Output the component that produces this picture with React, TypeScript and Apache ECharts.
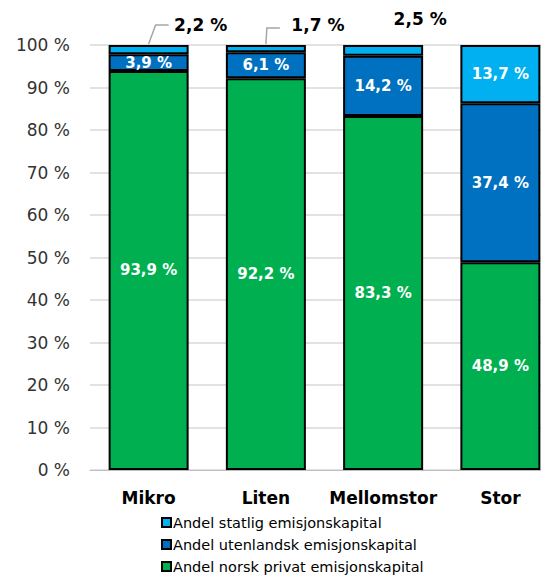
import React, { useEffect, useRef } from "react";
import * as echarts from "echarts";

const categories = ["Mikro", "Liten", "Mellomstor", "Stor"];
const statlig = [2.2, 1.7, 2.5, 13.7];
const utenlandsk = [3.9, 6.1, 14.2, 37.4];
const norsk = [93.9, 92.2, 83.3, 48.9];
const yTicks = [0, 10, 20, 30, 40, 50, 60, 70, 80, 90, 100];
const seriesNames = [
  "Andel statlig emisjonskapital",
  "Andel utenlandsk emisjonskapital",
  "Andel norsk privat emisjonskapital",
];

const FONT = "DejaVu Sans";
const fmt = (v: number) => v.toFixed(1).replace(".", ",") + " %";

export default function App() {
  const ref = useRef<HTMLDivElement>(null);
  useEffect(() => {
    const chart = echarts.init(ref.current!, null, { renderer: "svg" });
    const inside = {
      show: true,
      position: "inside",
      color: "#fff",
      fontWeight: "bold",
      fontSize: 15,
      fontFamily: FONT,
      formatter: (p: any) => fmt(p.value),
    };
    const border = { borderColor: "#000", borderWidth: 2 };
    const outsideOffsets = [
      [52, -7],
      [52, -7],
      [37, -13],
    ];
    chart.setOption({
      animation: false,
      textStyle: { fontFamily: FONT },
      grid: {
        left: 82,
        right: -2,
        top: 37,
        bottom: 118,
        containLabel: false,
        outerBoundsMode: "none",
      },
      legend: {
        orient: "vertical",
        left: 148,
        top: 505,
        width: 390,
        height: 70,
        itemWidth: 9,
        itemHeight: 9,
        itemGap: 7,
        padding: [2, 5],
        icon: "rect",
        data: seriesNames,
        textStyle: { fontSize: 14.5, color: "#000", fontFamily: FONT, padding: [0, 0, 0, -3] },
      },
      xAxis: {
        type: "category",
        data: categories,
        axisTick: { show: false },
        axisLine: { lineStyle: { color: "#bfbfbf", width: 1 } },
        axisLabel: {
          interval: 0,
          fontSize: 17,
          fontWeight: "bold",
          color: "#000",
          margin: 19,
          fontFamily: FONT,
        },
      },
      yAxis: {
        type: "value",
        min: yTicks[0],
        max: yTicks[yTicks.length - 1],
        interval: 10,
        axisLabel: { fontSize: 17, color: "#333", margin: 20, formatter: "{value} %", fontFamily: FONT },
        splitLine: { lineStyle: { color: "#d9d9d9", width: 1.5 } },
        axisLine: { show: false },
      },
      series: [
        {
          name: seriesNames[2],
          type: "bar",
          stack: "s",
          barWidth: 80,
          data: norsk,
          itemStyle: { color: "#00B050", ...border },
          label: inside,
        },
        {
          name: seriesNames[1],
          type: "bar",
          stack: "s",
          barWidth: 80,
          data: utenlandsk,
          itemStyle: { color: "#0070C0", ...border },
          label: inside,
        },
        {
          name: seriesNames[0],
          type: "bar",
          stack: "s",
          barWidth: 80,
          data: statlig.map((v, i) =>
            i < 3
              ? {
                  value: v,
                  label: {
                    show: true,
                    position: "top",
                    offset: outsideOffsets[i],
                    color: "#000",
                    fontWeight: "bold",
                    fontSize: 17,
                    fontFamily: FONT,
                    formatter: (p: any) => fmt(p.value),
                  },
                }
              : { value: v }
          ),
          itemStyle: { color: "#00B0F0", ...border },
          label: inside,
        },
      ],
    });
    // leader lines from bar tops to outside labels
    const lines: any[] = [];
    [0, 1].forEach((i) => {
      const base = chart.convertToPixel({ gridIndex: 0 } as any, [i, 100]) as number[];
      const bx = base[0];
      const by = base[1] - 1;
      const kink = i === 0 ? [bx + 7, by - 19] : [bx + 1, by - 16];
      lines.push({
        type: "polyline",
        shape: { points: [[bx, by], kink, [kink[0] + 13, kink[1]]] },
        style: { stroke: "#a6a6a6", lineWidth: 1.5, fill: "none" },
        silent: true,
      });
    });
    chart.setOption({ graphic: lines });
    return () => chart.dispose();
  }, []);
  return <div ref={ref} style={{ width: 549, height: 580 }} />;
}
